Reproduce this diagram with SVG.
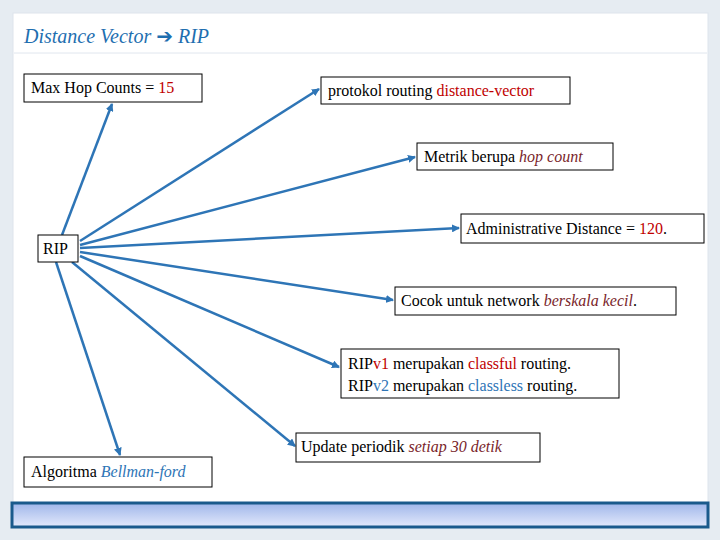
<svg xmlns="http://www.w3.org/2000/svg" width="720" height="540" viewBox="0 0 720 540">
<defs>
<marker id="a" markerWidth="8" markerHeight="8" refX="7" refY="4" orient="auto" markerUnits="userSpaceOnUse"><path d="M0,0 L8,4 L0,8 z" fill="#2e75b6"/></marker>
<linearGradient id="g" x1="0" y1="0" x2="0" y2="1"><stop offset="0" stop-color="#9fb6ea"/><stop offset="1" stop-color="#e3e9fb"/></linearGradient>
<style>
.b{fill:#fff;stroke:#000;stroke-width:1}
.t{font-size:16px;fill:#000}
.r{fill:#c00000}
.d{fill:#7a1f2b;font-style:italic}
.u{fill:#2e75b6}
.c line{stroke:#2e75b6;stroke-width:2.5;marker-end:url(#a)}
</style>
</defs>
<rect width="720" height="540" fill="#e6ecf2"/>
<rect x="13" y="13" width="695" height="492" fill="#fff" stroke="#dde4ec"/>
<line x1="14" y1="53" x2="707" y2="53" stroke="#e0e6ee"/>
<text x="24" y="43" font-family="Liberation Serif, serif" font-size="20" fill="#1f6fb0" font-style="italic">Distance Vector <tspan font-family="DejaVu Sans, sans-serif" font-weight="bold" font-style="normal">➔</tspan> RIP</text>
<g class="c">
<line x1="62" y1="235" x2="112" y2="104"/>
<line x1="80" y1="241" x2="319" y2="89"/>
<line x1="80" y1="245" x2="415" y2="157"/>
<line x1="80" y1="248" x2="459" y2="228"/>
<line x1="80" y1="252" x2="393" y2="300"/>
<line x1="80" y1="256" x2="339" y2="367"/>
<line x1="72" y1="262" x2="295" y2="446"/>
<line x1="56" y1="262" x2="120" y2="455"/>
</g>
<g font-family="Liberation Serif, serif">
<g id="maxhop"><rect class="b" x="24" y="74" width="178" height="28"/><text class="t" x="31" y="93">Max Hop Counts = <tspan class="r">15</tspan></text></g>
<g id="protokol"><rect class="b" x="321" y="77" width="249" height="27"/><text class="t" x="328" y="96">protokol routing <tspan class="r">distance-vector</tspan></text></g>
<g id="metrik"><rect class="b" x="417" y="143" width="196" height="27"/><text class="t" x="424" y="162">Metrik berupa <tspan class="d">hop count</tspan></text></g>
<g id="admin"><rect class="b" x="461" y="214" width="243" height="29"/><text class="t" x="466" y="234">Administrative Distance = <tspan class="r">120</tspan>.</text></g>
<g id="rip"><rect class="b" x="38" y="235" width="40" height="27"/><text class="t" x="43" y="254">RIP</text></g>
<g id="cocok"><rect class="b" x="395" y="287" width="281" height="28"/><text class="t" x="401" y="306">Cocok untuk network <tspan class="d">berskala kecil</tspan>.</text></g>
<g id="ripv"><rect class="b" x="341" y="349" width="278" height="49"/><text class="t" x="348" y="369">RIP<tspan class="r">v1</tspan> merupakan <tspan class="r">classful</tspan> routing.</text><text class="t" x="348" y="391">RIP<tspan class="u">v2</tspan> merupakan <tspan class="u">classless</tspan> routing.</text></g>
<g id="update"><rect class="b" x="296" y="433" width="244" height="29"/><text class="t" x="301" y="452">Update periodik <tspan class="d">setiap 30 detik</tspan></text></g>
<g id="algo"><rect class="b" x="24" y="457" width="188" height="30"/><text class="t" x="31" y="477">Algoritma <tspan fill="#2e75b6" font-style="italic">Bellman-ford</tspan></text></g>
</g>
<rect x="12" y="503" width="696" height="24" fill="url(#g)" stroke="#1a5a8c" stroke-width="3"/>
</svg>
